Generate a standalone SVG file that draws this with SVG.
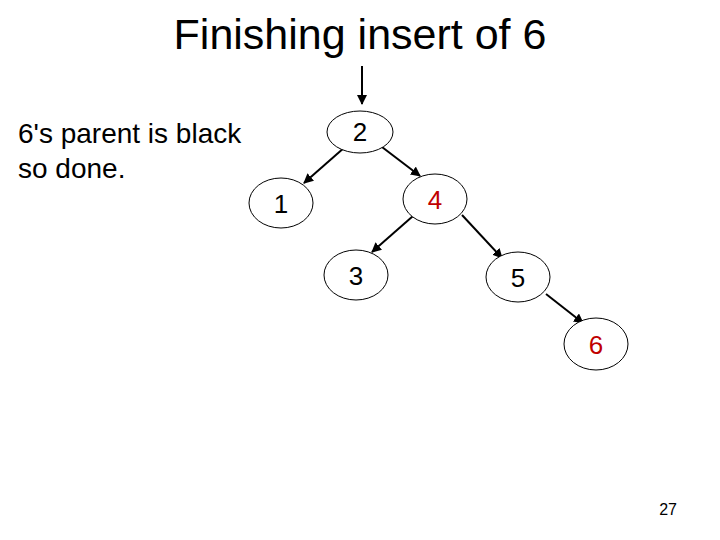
<svg xmlns="http://www.w3.org/2000/svg" width="720" height="540" viewBox="0 0 720 540">
<style>
text{font-family:"Liberation Sans",Arial,sans-serif}
.n ellipse{fill:#fff;stroke:#000;stroke-width:1}
.n text{font-size:26px;text-anchor:middle}
.r{fill:#c00000}
#edges line{stroke:#000;stroke-width:2;marker-end:url(#a)}
</style>
<defs><marker id="a" viewBox="0 0 10 10" refX="9" refY="5" markerWidth="5" markerHeight="5" orient="auto"><path d="M0,0L10,5L0,10z"/></marker></defs>
<rect width="720" height="540" fill="#fff"/>
<text x="360" y="49" font-size="43" text-anchor="middle">Finishing insert of 6</text>
<text x="18" y="143" font-size="28">6's parent is black</text>
<text x="18" y="178" font-size="28">so done.</text>
<text x="677" y="515" font-size="16" text-anchor="end">27</text>
<g id="edges">
<line x1="362" y1="66" x2="362" y2="104"/>
<line x1="345" y1="147" x2="304" y2="183"/>
<line x1="382" y1="147" x2="420" y2="176"/>
<line x1="413" y1="216" x2="372" y2="252"/>
<line x1="462" y1="215" x2="502" y2="258"/>
<line x1="546" y1="294" x2="583" y2="323"/>
</g>
<g id="n2" class="n"><ellipse cx="360" cy="132" rx="33" ry="21"/><text x="360" y="141">2</text></g>
<g id="n1" class="n"><ellipse cx="281" cy="203" rx="32" ry="25"/><text x="281" y="213">1</text></g>
<g id="n4" class="n"><ellipse cx="435" cy="199" rx="32" ry="25"/><text class="r" x="435" y="209">4</text></g>
<g id="n3" class="n"><ellipse cx="356" cy="275" rx="32" ry="25"/><text x="356" y="285">3</text></g>
<g id="n5" class="n"><ellipse cx="518" cy="277" rx="32" ry="25"/><text x="518" y="287">5</text></g>
<g id="n6" class="n"><ellipse cx="596" cy="344" rx="32" ry="26"/><text class="r" x="596" y="354">6</text></g>
</svg>
